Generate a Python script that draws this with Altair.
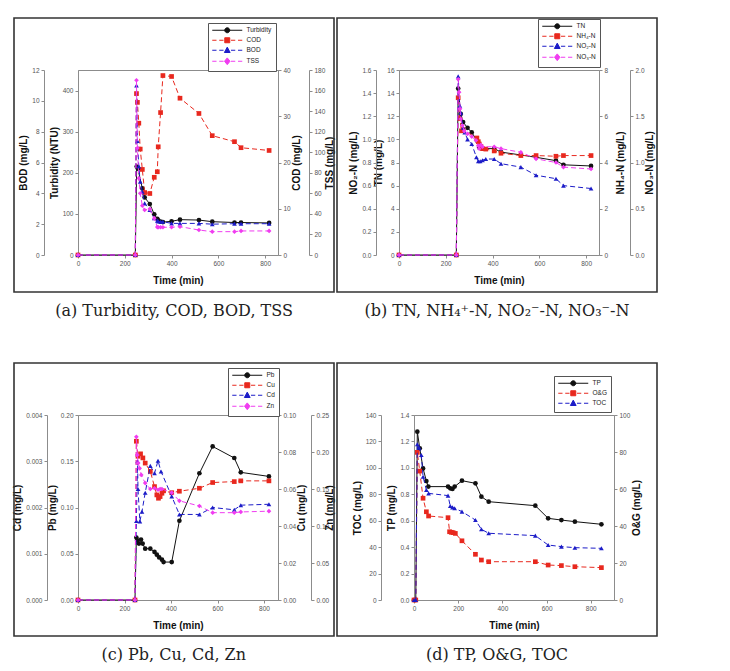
import altair as alt
import pandas as pd

# ---------------- Panel (a): Turbidity, COD, BOD, TSS ----------------
a_time = [0, 245, 250, 254, 260, 266, 275, 285, 307, 326, 339, 343, 353, 363, 400, 436, 517, 574, 669, 697, 817]
a_turb_time = [0, 245, 251, 256, 275, 285, 307, 326, 339, 343, 353, 363, 400, 436, 517, 574, 669, 697, 817]
a_turbidity = [0, 0, 215, 210, 162, 140, 124, 99, 88, 84, 81, 80, 82, 86, 85, 81, 79, 79, 78]
a_cod = [0, 0, 34.9, 33.0, 28.5, 22.9, 18.5, 13.5, 13.3, 16.8, 18.0, 23.4, 30.8, 38.8, 38.6, 33.9, 30.6, 25.8, 24.5, 23.2, 22.6]
a_bod = [0, 0, 11.0, 7.4, 5.75, 4.76, 4.1, 3.35, 2.92, 2.38, 2.23, 2.18, 2.16, 2.16, 2.05, 2.05, 2.05, 2.0, 2.03, 2.03, 2.03]
a_tss = [0, 0, 170, 104, 74.6, 60, 48, 43.8, 44.8, 35.7, 27.2, 27, 27, 27, 27, 27.6, 24.3, 22.7, 22.7, 23.4, 23.4]

# ---------------- Panel (b): TN, NH4, NO2, NO3 ----------------
b_tn_time = [0, 245, 253, 264, 274, 293, 311, 333, 343, 357, 407, 436, 521, 586, 671, 703, 821]
b_tn = [0, 0, 14.4, 12.2, 11.5, 11.0, 10.6, 9.9, 9.3, 9.2, 9.2, 8.9, 8.65, 8.45, 8.16, 7.8, 7.7]
b_nh4_time = [0, 245, 253, 260, 267, 274, 333, 339, 343, 350, 357, 371, 407, 436, 521, 586, 671, 703, 821]
b_nh4 = [0, 0, 6.8, 5.9, 5.37, 5.42, 5.06, 4.9, 4.8, 4.7, 4.6, 4.58, 4.5, 4.4, 4.3, 4.3, 4.27, 4.3, 4.3]
b_no2_time = [0, 245, 253, 260, 264, 274, 281, 293, 311, 331, 339, 347, 357, 371, 407, 436, 521, 586, 671, 703, 821]
b_no2 = [0, 0, 1.545, 1.29, 1.23, 1.10, 1.06, 1.0, 0.96, 0.845, 0.81, 0.81, 0.82, 0.83, 0.83, 0.79, 0.76, 0.69, 0.66, 0.60, 0.575]
b_no3_time = [0, 245, 253, 257, 261, 264, 271, 279, 293, 311, 329, 339, 343, 350, 357, 407, 436, 521, 586, 671, 703, 821]
b_no3 = [0, 0, 1.90, 1.76, 1.58, 1.47, 1.40, 1.34, 1.31, 1.28, 1.24, 1.18, 1.15, 1.19, 1.17, 1.17, 1.15, 1.11, 1.04, 1.0, 0.95, 0.93]

# ---------------- Panel (c): Pb, Cu, Cd, Zn ----------------
c_pb_time = [0, 245, 251, 255, 262, 271, 278, 289, 311, 329, 339, 349, 361, 368, 403, 436, 522, 579, 672, 700, 821]
c_pb = [0, 0, 0.0675, 0.0646, 0.061, 0.0653, 0.061, 0.0555, 0.0555, 0.052, 0.049, 0.046, 0.0436, 0.041, 0.041, 0.0857, 0.137, 0.166, 0.1535, 0.138, 0.1336]
c_cu_time = [0, 245, 251, 258, 269, 279, 289, 311, 329, 339, 346, 353, 361, 368, 403, 436, 522, 579, 672, 700, 821]
c_cu = [0, 0, 0.0858, 0.0777, 0.079, 0.0768, 0.074, 0.0695, 0.0613, 0.0568, 0.055, 0.0559, 0.0577, 0.059, 0.058, 0.0588, 0.0604, 0.0635, 0.064, 0.0644, 0.0644]
c_cd_time = [0, 245, 251, 256, 258, 266, 275, 289, 311, 329, 344, 357, 403, 436, 522, 579, 672, 700, 821]
c_cd = [0, 0, 0.00171, 0.0030, 0.0024, 0.0017, 0.00191, 0.00232, 0.0029, 0.00274, 0.00301, 0.00278, 0.00224, 0.00185, 0.00185, 0.0020, 0.00195, 0.00205, 0.00207]
c_zn_time = [0, 245, 251, 255, 259, 265, 272, 289, 311, 329, 344, 353, 361, 403, 436, 522, 579, 672, 700, 821]
c_zn = [0, 0, 0.2205, 0.196, 0.185, 0.178, 0.169, 0.158, 0.15, 0.151, 0.149, 0.15, 0.15, 0.145, 0.134, 0.127, 0.118, 0.118, 0.119, 0.12]

# ---------------- Panel (d): TP, O&G, TOC ----------------
d_tp_time = [0, 8, 15, 26, 41, 56, 65, 154, 164, 174, 184, 217, 278, 305, 338, 549, 607, 667, 728, 848]
d_tp = [0, 0, 1.274, 1.148, 0.996, 0.90, 0.858, 0.858, 0.845, 0.84, 0.858, 0.903, 0.883, 0.782, 0.744, 0.714, 0.618, 0.605, 0.593, 0.573]
d_og_time = [0, 8, 15, 26, 41, 56, 66, 154, 161, 169, 177, 187, 217, 278, 305, 338, 549, 607, 667, 728, 848]
d_og = [0, 0, 79.8, 69.7, 55, 47.7, 45.4, 44.5, 36.9, 36.6, 36.4, 36, 32, 24.7, 21.6, 20.7, 20.7, 18.9, 18.6, 18.0, 17.5]
d_toc_time = [0, 8, 15, 23, 33, 41, 56, 66, 154, 164, 174, 184, 217, 278, 305, 338, 549, 607, 667, 728, 848]
d_toc = [0, 0, 117.8, 115.3, 109.7, 93.3, 83.2, 80.7, 79, 71.1, 70.1, 69.4, 66.9, 60.5, 53.5, 50.5, 48.7, 41.6, 40.4, 39.6, 39.1]

captions = ["(a) Turbidity, COD, BOD, TSS",
            "(b) TN, NH\u2084\u207a-N, NO\u2082\u207b-N, NO\u2083\u207b-N",
            "(c) Pb, Cu, Cd, Zn",
            "(d) TP, O&G, TOC"]

BLACK, RED, BLUE, MAG = "#111111", "#e8281e", "#1c1cc8", "#f03cf0"
FONT = "Liberation Sans Narrow, Arial Narrow, Liberation Sans"

MARK = {"circle": "M-1,0A1,1,0,1,0,1,0A1,1,0,1,0,-1,0Z",
        "square": "M-1,-1H1V1H-1Z",
        "triangle-up": "M0,-1.25L1.15,0.9H-1.15Z",
        "diamond": "M0,-1.35L1.1,0L0,1.35L-1.1,0Z"}
SOLID = "M-6,0H6"
DASHED = "M-6,0H-4.3M-3.2,0H-1.5M1.5,0H3.2M4.3,0H6"


def S(label, title, time, values, color, shape, dash, domain, ticks, fmt, orient, offset, tpad):
    return dict(label=label, title=title, time=time, values=values, color=color, shape=shape,
                dash=dash, domain=domain, ticks=ticks, fmt=fmt, orient=orient, offset=offset, tpad=tpad)


def panel(key, series, xdomain, frame, legxy, caption):
    layers = []
    xax = alt.Axis(title="Time (min)", values=[0, 200, 400, 600, 800], format="d")
    for s in series:
        df = pd.DataFrame({"t": s["time"], "v": s["values"]})
        mk = dict(color=s["color"], strokeWidth=1,
                  point=alt.OverlayMarkDef(shape=s["shape"], filled=True, size=22, color=s["color"]))
        if s["dash"]:
            mk["strokeDash"] = [5, 3]
        ax = alt.Axis(title=s["title"], orient=s["orient"], offset=s["offset"],
                      values=s["ticks"], format=s["fmt"], titleAngle=270, titlePadding=s["tpad"])
        layers.append(
            alt.Chart(df).mark_line(**mk).encode(
                x=alt.X("t:Q", scale=alt.Scale(domain=xdomain, nice=False, zero=False), axis=xax),
                y=alt.Y("v:Q", scale=alt.Scale(domain=s["domain"], nice=False), axis=ax),
            )
        )
    fx0, fx1, fy0, fy1 = frame
    layers.append(
        alt.Chart(pd.DataFrame({"k": [0]})).mark_rect(fill="transparent", stroke="#333333", strokeWidth=1.6)
        .encode(x=alt.value(fx0), x2=alt.value(fx1), y=alt.value(fy0), y2=alt.value(fy1))
    )
    names = [s["label"] for s in series]
    colors = [s["color"] for s in series]
    paths = [(DASHED if s["dash"] else SOLID) + MARK[s["shape"]] for s in series]
    fld = "series_" + key
    leg = alt.Legend(title=None, orient="none", legendX=legxy[0], legendY=legxy[1],
                     padding=4, strokeColor="#555555", fillColor="white",
                     symbolSize=25, symbolOffset=12, labelOffset=16, rowPadding=0,
                     symbolOpacity=1, symbolStrokeWidth=1,
                     labelFontSize=6.5, labelFont=FONT, labelColor="#222222")
    layers.append(
        alt.Chart(pd.DataFrame({fld: names}))
        .transform_filter(f"datum.{fld} == '__none__'")
        .mark_point(filled=True, size=25, opacity=1)
        .encode(
            x=alt.value(0), y=alt.value(0),
            fill=alt.Fill(f"{fld}:N", scale=alt.Scale(domain=names, range=colors), legend=leg),
            stroke=alt.Stroke(f"{fld}:N", scale=alt.Scale(domain=names, range=colors), legend=leg),
            shape=alt.Shape(f"{fld}:N", scale=alt.Scale(domain=names, range=paths), legend=leg),
        )
    )
    return alt.layer(*layers).resolve_scale(y="independent").properties(
        width=200, height=185,
        title=alt.TitleParams(caption, orient="bottom", anchor="middle", frame="bounds", offset=10,
                              fontSize=16, font="DejaVu Serif", fontWeight="normal", color="#222222"),
    )


pa = panel("a", [
    S("Turbidity", "Turbidity (NTU)", a_turb_time, a_turbidity, BLACK, "circle", False, [0, 450], [0, 100, 200, 300, 400], "d", "left", 0, 3),
    S("COD", "COD (mg/L)", a_time, a_cod, RED, "square", True, [0, 40], [0, 10, 20, 30, 40], "d", "right", 0, 11),
    S("BOD", "BOD (mg/L)", a_time, a_bod, BLUE, "triangle-up", True, [0, 12], [0, 2, 4, 6, 8, 10, 12], "d", "left", 34, 3),
    S("TSS", "TSS (mg/L)", a_time, a_tss, MAG, "diamond", True, [0, 180], list(range(0, 181, 20)), "d", "right", 31, 10),
], [0, 855], (-64, 256, -52, 222), (130, -47), captions[0])

pb = panel("b", [
    S("TN", "TN (mg/L)", b_tn_time, b_tn, BLACK, "circle", False, [0, 16], list(range(0, 17, 2)), "d", "left", 0, 3),
    S("NH\u2084-N", "NH\u2084-N (mg/L)", b_nh4_time, b_nh4, RED, "square", True, [0, 8], [0, 2, 4, 6, 8], "d", "right", 0, 18),
    S("NO\u2082-N", "NO\u2082-N (mg/L)", b_no2_time, b_no2, BLUE, "triangle-up", True, [0, 1.6], [0, 0.2, 0.4, 0.6, 0.8, 1.0, 1.2, 1.4, 1.6], ".1f", "left", 23, 3),
    S("NO\u2083-N", "NO\u2083-N (mg/L)", b_no3_time, b_no3, MAG, "diamond", True, [0, 2.0], [0, 0.5, 1.0, 1.5, 2.0], ".1f", "right", 31, 10),
], [0, 855], (-62, 258, -52, 222), (139, -51), captions[1])

pc = panel("c", [
    S("Pb", "Pb (mg/L)", c_pb_time, c_pb, BLACK, "circle", False, [0, 0.2], [0, 0.05, 0.10, 0.15, 0.20], ".2f", "left", 0, 3),
    S("Cu", "Cu (mg/L)", c_cu_time, c_cu, RED, "square", True, [0, 0.1], [0, 0.02, 0.04, 0.06, 0.08, 0.10], ".2f", "right", 0, 11),
    S("Cd", "Cd (mg/L)", c_cd_time, c_cd, BLUE, "triangle-up", True, [0, 0.004], [0, 0.001, 0.002, 0.003, 0.004], ".3f", "left", 31, 3),
    S("Zn", "Zn (mg/L)", c_zn_time, c_zn, MAG, "diamond", True, [0, 0.25], [0, 0.05, 0.10, 0.15, 0.20, 0.25], ".2f", "right", 33, 6),
], [0, 860], (-64, 256, -52, 221), (150, -47), captions[2])

pd_ = panel("d", [
    S("TP", "TP (mg/L)", d_tp_time, d_tp, BLACK, "circle", False, [0, 1.4], [0, 0.2, 0.4, 0.6, 0.8, 1.0, 1.2, 1.4], ".1f", "left", 0, 3),
    S("O&G", "O&G (mg/L)", d_og_time, d_og, RED, "square", True, [0, 100], [0, 20, 40, 60, 80, 100], "d", "right", 0, 12),
    S("TOC", "TOC (mg/L)", d_toc_time, d_toc, BLUE, "triangle-up", True, [0, 140], list(range(0, 141, 20)), "d", "left", 33, 3),
], [0, 905], (-77, 243, -52, 221), (140, -39), captions[3])

RES = dict(fill="independent", stroke="independent", shape="independent")
row1 = alt.hconcat(pa, pb, spacing=121, bounds="flush").resolve_scale(**RES).resolve_legend(**RES)
row2 = alt.hconcat(pc, pd_, spacing=136, bounds="flush").resolve_scale(**RES).resolve_legend(**RES)

# nested rows count as zero-height under "flush", so the spacing covers row height + gap
chart = alt.vconcat(row1, row2, spacing=345, bounds="flush").resolve_scale(**RES).resolve_legend(**RES).properties(
    padding={"left": 4, "top": 8, "right": 5, "bottom": 5}
).configure_view(stroke="#8c8c8c", strokeWidth=1).configure_axis(
    labelFont=FONT, labelFontSize=6.5, labelColor="#555555", labelFlush=False,
    titleFont=FONT, titleFontSize=10, titleFontWeight="bold", titleColor="#111111",
    domainColor="#8c8c8c", tickColor="#8c8c8c", tickSize=3, grid=False,
    labelPadding=2, titlePadding=3,
).configure_axisX(titleAngle=0, titlePadding=9)

chart.save("out.html", embed_options={"renderer": "svg", "actions": False})
